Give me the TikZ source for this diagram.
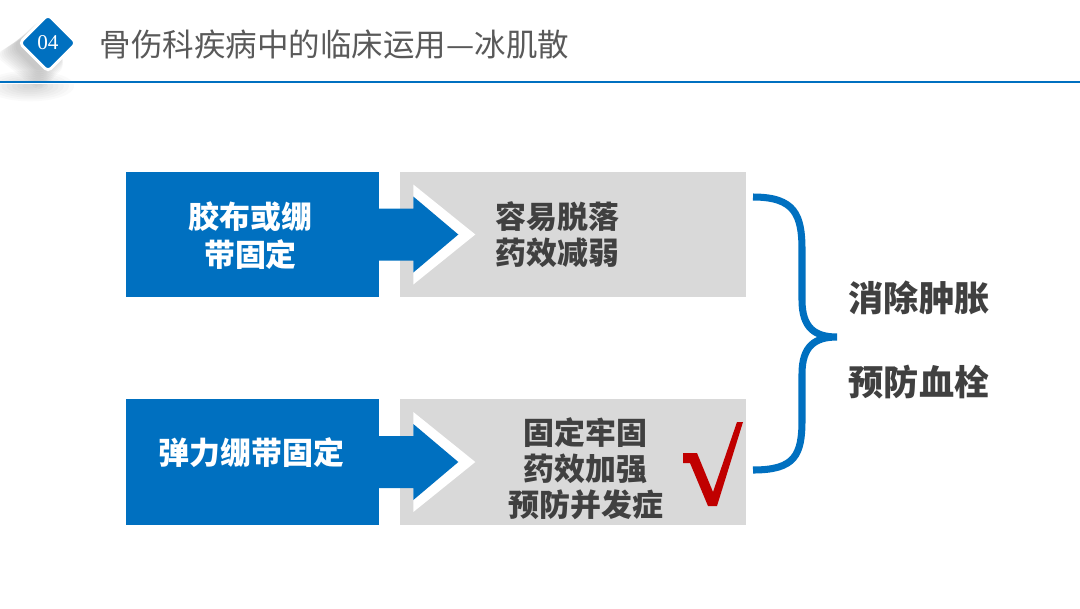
\documentclass[tikz,border=0pt]{standalone}
\usepackage{fontspec}
\usepackage{xcolor}
\newfontfamily\cjk{Noto Sans CJK SC}
\newfontfamily\numfont{Liberation Serif}
\usetikzlibrary{shapes.geometric,positioning,calc}
\definecolor{pptblue}{HTML}{0070C0}
\definecolor{boxgray}{HTML}{D9D9D9}
\definecolor{textgray}{HTML}{404040}
\definecolor{titlegray}{HTML}{595959}
\definecolor{tickred}{HTML}{C00000}

\begin{document}
\begin{tikzpicture}[x=0.025cm, y=-0.025cm]
    \tikzset{
        cause/.style={fill=pptblue, rectangle, minimum height=3.125cm, minimum width=6.325cm, inner sep=0pt},
        effect/.style={fill=boxgray, rectangle, minimum height=3.125cm, minimum width=8.65cm, inner sep=0pt},
        causetext/.style={align=center, text=white, font=\cjk\bfseries\fontsize{22}{26.5}\selectfont},
        effecttext/.style={align=center, text=textgray, font=\cjk\bfseries\fontsize{22}{25.6}\selectfont},
        goal/.style={text=textgray, font=\cjk\bfseries\fontsize{25}{30}\selectfont},
        badge/.style={diamond, fill=pptblue, draw=white, line width=2pt, rounded corners=3pt, minimum size=1.45cm, inner sep=0pt, text=white, font=\numfont\fontsize{15}{15}\selectfont},
        title/.style={anchor=west, text=titlegray, font=\cjk\fontsize{22.4}{26}\selectfont},
        brace/.style={draw=pptblue, line width=5pt}
    }
    \useasboundingbox (0,0) rectangle (1080,608);

    % header
    \foreach \o in {2,4,...,20} {
        \fill[black, opacity=0.022, rounded corners=6pt] (40,18+\o/2) -- (66,45+\o) -- (40,72+\o) -- (14-\o,45+\o/2) -- cycle;
    }
    \foreach \r in {6,10,...,34} {
        \fill[black, opacity=0.02] (30,86) ellipse ({\r*1.3} and {\r*0.45});
    }
    \fill[white] (0,82) rectangle (120,84);
    \draw[pptblue, line width=1.5pt] (0,82) -- (1080,82);
    \node[badge] (num) at (48,43) {04};
    \node[title] (head) at (95,45) {骨伤科疾病中的临床运用—冰肌散};

    % boxes
    \node[cause] (tape) at (252.5,234.5) {};
    \node[effect, right=0.5cm of tape] (taperes) {};
    \node[cause] (elastic) at (252.5,462) {};
    \node[effect, right=0.5cm of elastic] (elasticres) {};

    % arrows between the boxes
    \foreach \b in {tape, elastic} {
        \begin{scope}[shift={(\b.east)}]
            \fill[white] (34,-50) -- (96,0) -- (34,50) -- cycle;
            \fill[pptblue] (-9,-26) -- (34,-26) -- (34,-38) -- (79,0) -- (34,38) -- (34,26) -- (-9,26) -- cycle;
        \end{scope}
    }

    \node[causetext] (tapetxt) at ($(tape)+(-2,1)$) {胶布或绷\\带固定};
    \node[effecttext] (taperestxt) at ($(taperes)+(-15,0)$) {容易脱落\\药效减弱};
    \node[causetext] (elastictxt) at ($(elastic)+(-1,-9)$) {弹力绷带固定};
    \node[effecttext] (elasticrestxt) at ($(elasticres)+(13,7)$) {固定牢固\\药效加强\\预防并发症};

    % tick mark
    \fill[tickred] (683,453) -- (697,453) -- (713,492) -- (737,422) -- (743,422) -- (717,506)
        -- (708,506) -- (690,463) -- (683,463) -- cycle;

    % brace
    \draw[brace] (753,197) .. controls (795,197) and (802,215) .. (802,250) -- (802,300)
        .. controls (802,328) and (815,337) .. (837,337)
        .. controls (815,337) and (802,346) .. (802,374) -- (802,420)
        .. controls (802,455) and (795,470) .. (753,470);

    \node[goal] (swell) at (919,298) {消除肿胀};
    \node[goal] (clot) at (919,382) {预防血栓};
\end{tikzpicture}
\end{document}
